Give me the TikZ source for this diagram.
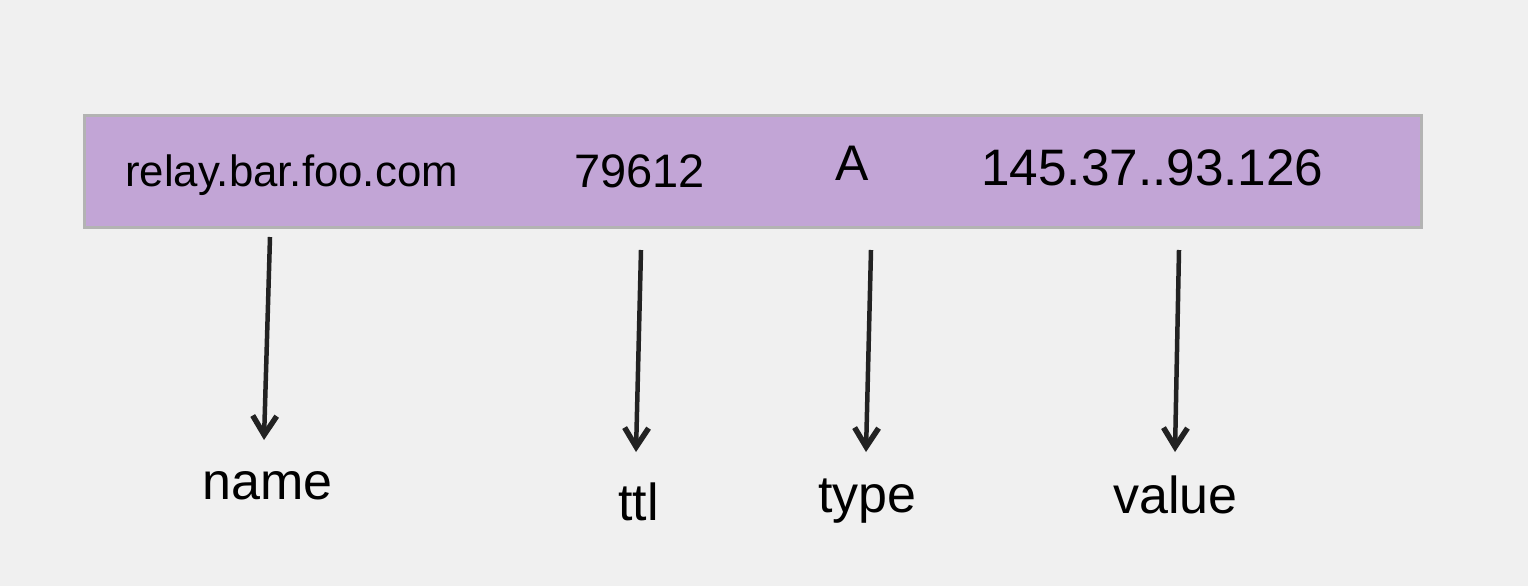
\documentclass[tikz,border=0pt]{standalone}
\usepackage{fontspec}
\setmainfont{Liberation Sans}
\usetikzlibrary{arrows.meta}
\definecolor{bg}{HTML}{F0F0F0}
\definecolor{recfill}{HTML}{C2A5D6}
\definecolor{recline}{HTML}{B3B3B3}
\definecolor{ink}{HTML}{222222}
\begin{document}
\begin{tikzpicture}[x=1pt,y=-1pt,
  lbl/.style={inner sep=0pt,anchor=base west,font=\fontsize{52}{52}\selectfont},
  fld/.style={inner sep=0pt,anchor=base west},
  pointer/.style={draw=ink,line width=4.5pt,-{Straight Barb[length=19pt,width=24pt,line width=5.5pt]}}]
\fill[bg] (0,0) rectangle (1528,586);
\useasboundingbox (0,0) rectangle (1528,586);
\node[draw=recline,fill=recfill,line width=3pt,minimum width=1337pt,minimum height=112pt,inner sep=0pt,anchor=north west] (rec) at (83,114) {};
\node[fld,font=\fontsize{43.8}{44}\selectfont] (fname) at (125,186) {relay.bar.foo.com};
\node[fld,font=\fontsize{47}{47}\selectfont] (fttl) at (574,187) {79612};
\node[fld,font=\fontsize{50}{50}\selectfont] (ftype) at (835,180) {A};
\node[fld,font=\fontsize{51.3}{51}\selectfont] (fval) at (981,185) {145.37..93.126};
\node[lbl] (lname) at (202,499) {name};
\node[lbl] (lttl) at (618,520) {ttl};
\node[lbl] (ltype) at (818,512) {type};
\node[lbl] (lval) at (1113,513) {value};
\coordinate (s1) at (270,237); \coordinate (e1) at (264,440);
\coordinate (s2) at (641,250); \coordinate (e2) at (636,452);
\coordinate (s3) at (871,250); \coordinate (e3) at (866,452);
\coordinate (s4) at (1179,250); \coordinate (e4) at (1175,452);
\draw[pointer] (s1) -- (e1);
\draw[pointer] (s2) -- (e2);
\draw[pointer] (s3) -- (e3);
\draw[pointer] (s4) -- (e4);
\end{tikzpicture}
\end{document}
